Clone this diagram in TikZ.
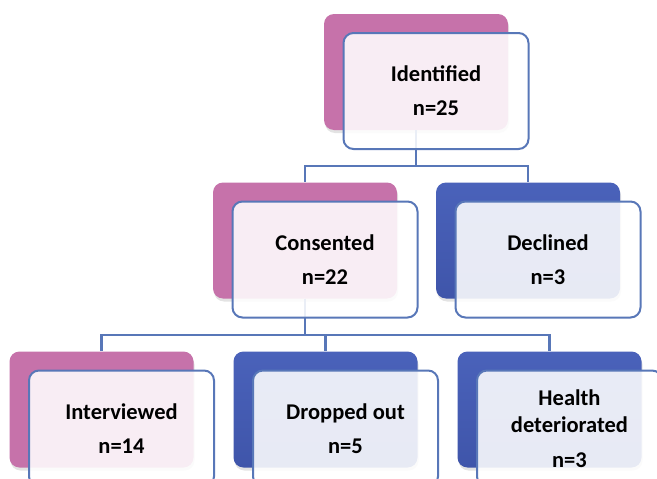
\documentclass[tikz,border=0pt]{standalone}
\usepackage{fontspec}
\setmainfont{Carlito}
\usetikzlibrary{shadows}
\definecolor{pinkback}{HTML}{C672AA}
\definecolor{blueback}{HTML}{4A62BA}
\definecolor{bluedark}{HTML}{3F55AA}
\definecolor{lineblue}{HTML}{5877B8}
\tikzset{
 backbox/.style={rounded corners=10pt, minimum width=184pt, minimum height=116pt, inner sep=0pt, draw=none,
   drop shadow={opacity=0.22, shadow xshift=1pt, shadow yshift=-3pt}},
 pinkbox/.style={backbox, fill=pinkback},
 bluebox/.style={backbox, top color=blueback, bottom color=bluedark},
 frontbox/.style={rounded corners=10pt, minimum width=185pt, minimum height=116pt, inner sep=0pt,
   draw=lineblue, line width=2pt, fill=white, fill opacity=0.88, text opacity=1, align=center,
   font=\fontsize{22.5}{34}\selectfont\bfseries},
 link/.style={draw=lineblue, line width=2.3pt}
}
\begin{document}
\begin{tikzpicture}[x=1pt,y=-1pt]
\path[use as bounding box, clip] (0,0) rectangle (657,479);
\fill[white] (0,0) rectangle (657,479);
% back boxes
\node[pinkbox] (idb)  at (416,72) {};
\node[pinkbox] (conb) at (305,240.5) {};
\node[bluebox] (decb) at (528,240.5) {};
\node[pinkbox] (intb) at (101.5,409.5) {};
\node[bluebox] (drob) at (325.5,409.5) {};
\node[bluebox] (heab) at (549.5,409.5) {};
% connectors
\draw[link] (idb.south) -- ++(0,36) -| (conb.north);
\draw[link] (idb.south) -- ++(0,36) -| (decb.north);
\draw[link] (conb.south) -- ++(0,36) -| (intb.north);
\draw[link] (conb.south) -- ++(0,36) -| (drob.north);
\draw[link] (conb.south) -- ++(0,36) -| (heab.north);
% front boxes
\node[frontbox] (idf)  at ([shift={(20,19)}]idb.center)  {Identified\\n=25};
\node[frontbox] (conf) at ([shift={(20,19)}]conb.center) {Consented\\n=22};
\node[frontbox] (decf) at ([shift={(20,19)}]decb.center) {Declined\\n=3};
\node[frontbox] (intf) at ([shift={(20,19)}]intb.center) {Interviewed\\n=14};
\node[frontbox] (drof) at ([shift={(20,19)}]drob.center) {Dropped out\\n=5};
\node[frontbox] (heaf) at ([shift={(20,19)}]heab.center) {Health\\[-7pt]deteriorated\\[1pt]n=3};
\end{tikzpicture}
\end{document}
